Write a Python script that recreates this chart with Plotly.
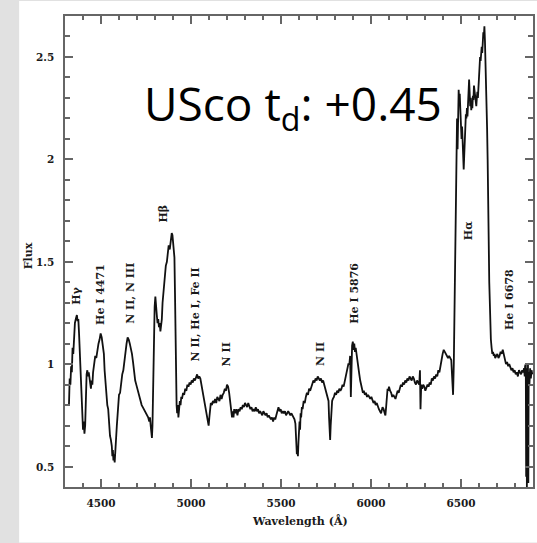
import plotly.graph_objects as go

# Optical spectrum of U Sco (wavelength in Angstrom, normalised flux)
wavelength = [
    4322, 4326, 4330, 4334, 4338, 4342, 4346, 4350, 4355, 4360, 4366, 4370, 4374, 4378, 4382, 4385,
    4388, 4392, 4396, 4400, 4404, 4408, 4412, 4416, 4420, 4424, 4428, 4432, 4436, 4440, 4444, 4448,
    4452, 4456, 4462, 4468, 4474, 4480, 4486, 4492, 4498, 4504, 4510, 4516, 4520, 4525, 4530, 4535,
    4540, 4545, 4550, 4555, 4560, 4563, 4566, 4569, 4572, 4576, 4580, 4584, 4588, 4592, 4596, 4600,
    4606, 4612, 4618, 4624, 4630, 4636, 4642, 4648, 4654, 4660, 4666, 4672, 4678, 4684, 4690, 4696,
    4702, 4708, 4714, 4720, 4726, 4732, 4738, 4744, 4750, 4756, 4762, 4768, 4772, 4776, 4780, 4783,
    4786, 4790, 4794, 4798, 4802, 4806, 4810, 4814, 4818, 4822, 4826, 4830, 4834, 4838, 4842, 4846,
    4850, 4855, 4860, 4866, 4870, 4876, 4882, 4888, 4893, 4897, 4900, 4904, 4908, 4911, 4914, 4917,
    4920, 4923, 4927, 4930, 4934, 4938, 4942, 4946, 4950, 4956, 4962, 4968, 4974, 4980, 4986, 4992,
    4998, 5004, 5010, 5016, 5022, 5028, 5034, 5040, 5046, 5052, 5058, 5064, 5070, 5076, 5082, 5088,
    5094, 5098, 5102, 5106, 5110, 5116, 5122, 5128, 5134, 5140, 5146, 5152, 5158, 5164, 5170, 5176,
    5182, 5188, 5194, 5200, 5206, 5212, 5216, 5220, 5224, 5228, 5232, 5236, 5240, 5246, 5252, 5258,
    5264, 5270, 5276, 5282, 5288, 5294, 5300, 5306, 5312, 5318, 5324, 5330, 5336, 5342, 5348, 5354,
    5360, 5366, 5372, 5378, 5384, 5390, 5396, 5402, 5408, 5414, 5420, 5426, 5432, 5438, 5444, 5450,
    5456, 5462, 5468, 5474, 5480, 5486, 5492, 5498, 5504, 5510, 5516, 5522, 5528, 5534, 5540, 5546,
    5552, 5558, 5564, 5570, 5575, 5580, 5584, 5588, 5591, 5594, 5597, 5600, 5603, 5606, 5609, 5612,
    5616, 5620, 5626, 5632, 5638, 5644, 5650, 5656, 5662, 5668, 5674, 5680, 5686, 5692, 5698, 5704,
    5710, 5716, 5722, 5728, 5734, 5740, 5746, 5752, 5758, 5764, 5767, 5770, 5773, 5776, 5780, 5784,
    5788, 5794, 5800, 5806, 5812, 5818, 5824, 5830, 5836, 5842, 5848, 5854, 5862, 5868, 5874, 5880,
    5884, 5888, 5891, 5895, 5899, 5903, 5907, 5911, 5915, 5920, 5925, 5930, 5935, 5940, 5945, 5950,
    5955, 5960, 5966, 5972, 5978, 5984, 5990, 5996, 6002, 6008, 6014, 6020, 6026, 6032, 6038, 6044,
    6050, 6056, 6064, 6070, 6076, 6080, 6084, 6088, 6092, 6096, 6100, 6106, 6112, 6118, 6124, 6130,
    6136, 6142, 6148, 6154, 6160, 6166, 6172, 6178, 6184, 6190, 6196, 6202, 6208, 6214, 6220, 6226,
    6232, 6238, 6244, 6250, 6256, 6262, 6268, 6272, 6275, 6279, 6284, 6290, 6296, 6302, 6308, 6314,
    6320, 6326, 6332, 6338, 6344, 6350, 6356, 6362, 6368, 6374, 6380, 6386, 6392, 6398, 6404, 6410,
    6416, 6422, 6428, 6434, 6440, 6446, 6450, 6453, 6456, 6460, 6464, 6467, 6470, 6474, 6478, 6481,
    6484, 6487, 6490, 6493, 6496, 6500, 6503, 6506, 6509, 6512, 6515, 6518, 6521, 6524, 6527, 6530,
    6533, 6536, 6539, 6542, 6545, 6548, 6551, 6554, 6557, 6560, 6563, 6566, 6569, 6572, 6575, 6578,
    6581, 6585, 6588, 6591, 6594, 6597, 6600, 6603, 6606, 6609, 6612, 6615, 6618, 6621, 6624, 6627,
    6630, 6633, 6636, 6639, 6642, 6645, 6648, 6651, 6654, 6657, 6660, 6663, 6666, 6670, 6674, 6678,
    6682, 6686, 6690, 6696, 6702, 6708, 6714, 6720, 6726, 6732, 6738, 6744, 6750, 6756, 6762, 6768,
    6774, 6780, 6786, 6792, 6798, 6804, 6810, 6816, 6822, 6828, 6834, 6840, 6846, 6850, 6854, 6856,
    6858, 6860, 6862, 6864, 6866, 6868, 6870, 6872, 6874, 6876, 6880, 6884, 6888, 6892, 6896,
]
flux = [
    0.80, 0.93, 0.90, 0.99, 0.96, 1.08, 1.05, 1.16, 1.20, 1.22, 1.24, 1.21, 1.22, 1.15, 1.05, 0.96,
    0.88, 0.80, 0.72, 0.68, 0.72, 0.66, 0.70, 0.85, 0.95, 0.97, 0.94, 0.96, 0.93, 0.90, 0.88, 0.92,
    0.90, 0.96, 1.00, 1.04, 1.03, 1.08, 1.10, 1.12, 1.15, 1.13, 1.10, 1.05, 0.97, 0.90, 0.85, 0.80,
    0.78, 0.70, 0.65, 0.63, 0.60, 0.55, 0.58, 0.53, 0.56, 0.52, 0.60, 0.66, 0.70, 0.75, 0.80, 0.85,
    0.86, 0.91, 0.95, 0.97, 1.02, 1.06, 1.10, 1.13, 1.12, 1.10, 1.08, 1.05, 1.01, 0.96, 0.92, 0.90,
    0.88, 0.85, 0.83, 0.82, 0.80, 0.79, 0.78, 0.77, 0.76, 0.75, 0.74, 0.72, 0.74, 0.70, 0.66, 0.64,
    0.70, 0.92, 1.10, 1.28, 1.33, 1.30, 1.24, 1.20, 1.22, 1.18, 1.20, 1.16, 1.19, 1.22, 1.30, 1.35,
    1.38, 1.42, 1.48, 1.50, 1.53, 1.58, 1.56, 1.62, 1.64, 1.63, 1.60, 1.58, 1.52, 1.35, 1.10, 0.92,
    0.80, 0.76, 0.80, 0.74, 0.79, 0.82, 0.80, 0.84, 0.83, 0.86, 0.85, 0.88, 0.87, 0.90, 0.89, 0.91,
    0.90, 0.92, 0.91, 0.93, 0.92, 0.94, 0.95, 0.93, 0.94, 0.93, 0.90, 0.88, 0.84, 0.80, 0.77, 0.76,
    0.72, 0.70, 0.74, 0.79, 0.81, 0.80, 0.82, 0.81, 0.83, 0.81, 0.84, 0.83, 0.82, 0.85, 0.83, 0.85,
    0.86, 0.88, 0.87, 0.90, 0.89, 0.86, 0.82, 0.78, 0.76, 0.74, 0.77, 0.74, 0.78, 0.76, 0.78, 0.75,
    0.78, 0.77, 0.79, 0.78, 0.80, 0.79, 0.81, 0.80, 0.79, 0.81, 0.79, 0.78, 0.79, 0.77, 0.78, 0.77,
    0.79, 0.77, 0.78, 0.76, 0.77, 0.76, 0.75, 0.77, 0.76, 0.75, 0.76, 0.74, 0.75, 0.74, 0.73, 0.74,
    0.72, 0.74, 0.73, 0.75, 0.77, 0.79, 0.77, 0.78, 0.76, 0.77, 0.76, 0.77, 0.75, 0.76, 0.77, 0.76,
    0.75, 0.76, 0.75, 0.74, 0.73, 0.71, 0.64, 0.56, 0.60, 0.55, 0.62, 0.70, 0.72, 0.68, 0.76, 0.74,
    0.79, 0.78, 0.82, 0.81, 0.84, 0.86, 0.85, 0.88, 0.87, 0.89, 0.90, 0.92, 0.91, 0.93, 0.92, 0.94,
    0.93, 0.92, 0.93, 0.91, 0.92, 0.90, 0.88, 0.86, 0.84, 0.82, 0.74, 0.66, 0.63, 0.70, 0.78, 0.82,
    0.83, 0.84, 0.86, 0.85, 0.87, 0.86, 0.88, 0.87, 0.88, 0.90, 0.89, 0.92, 0.95, 0.98, 1.00, 1.00,
    1.04, 0.84, 1.06, 1.09, 1.11, 1.07, 1.10, 1.06, 1.08, 1.04, 1.03, 0.98, 0.95, 0.92, 0.90, 0.88,
    0.86, 0.87, 0.85, 0.86, 0.84, 0.85, 0.84, 0.83, 0.84, 0.82, 0.81, 0.82, 0.80, 0.81, 0.79, 0.78,
    0.77, 0.76, 0.79, 0.78, 0.76, 0.75, 0.79, 0.84, 0.88, 0.87, 0.89, 0.87, 0.86, 0.84, 0.85, 0.84,
    0.83, 0.85, 0.87, 0.86, 0.88, 0.90, 0.89, 0.91, 0.90, 0.92, 0.91, 0.93, 0.92, 0.94, 0.93, 0.92,
    0.94, 0.93, 0.91, 0.90, 0.92, 0.91, 0.90, 0.97, 0.78, 0.90, 0.88, 0.90, 0.89, 0.87, 0.89, 0.90,
    0.89, 0.91, 0.90, 0.93, 0.92, 0.94, 0.93, 0.95, 0.94, 0.97, 0.96, 1.00, 1.02, 1.05, 1.07, 1.06,
    1.05, 1.04, 1.03, 1.04, 1.03, 1.02, 0.95, 0.88, 0.85, 1.00, 1.30, 1.60, 1.90, 2.15, 2.20, 2.05,
    2.30, 2.34, 2.28, 2.32, 2.25, 2.18, 2.10, 2.16, 2.04, 1.98, 1.95, 2.02, 2.10, 2.15, 2.22, 2.20,
    2.25, 2.21, 2.28, 2.36, 2.39, 2.33, 2.26, 2.30, 2.24, 2.28, 2.25, 2.31, 2.29, 2.36, 2.33, 2.30,
    2.28, 2.26, 2.30, 2.33, 2.30, 2.35, 2.40, 2.47, 2.50, 2.48, 2.53, 2.55, 2.52, 2.58, 2.62, 2.60,
    2.65, 2.58, 2.50, 2.42, 2.30, 2.15, 2.00, 1.88, 1.60, 1.40, 1.25, 1.18, 1.12, 1.08, 1.05, 1.06,
    1.04, 1.05, 1.03, 1.04, 1.05, 1.03, 1.04, 1.06, 1.05, 1.07, 1.04, 1.02, 1.00, 1.01, 0.99, 1.00,
    0.98, 0.97, 0.98, 0.96, 0.97, 0.95, 0.96, 0.94, 0.97, 0.96, 0.95, 0.97, 0.96, 0.98, 0.94, 0.99,
    0.72, 1.00, 0.45, 0.98, 0.40, 0.95, 0.75, 1.00, 0.42, 0.96, 0.90, 0.98, 0.93, 0.97, 0.95,
]

# Line identifications: (label, wavelength, flux position)
line_labels = ["Hγ", "He I 4471", "N II, N III", "Hβ", "N II, He I, Fe II",
               "N II", "N II", "He I 5876", "Hα", "He I 6678"]
label_wave = [4366, 4494, 4660, 4842, 5025, 5196, 5716, 5904, 6540, 6767]
label_flux = [1.333, 1.342, 1.347, 1.733, 1.240, 1.049, 1.049, 1.347, 1.650, 1.313]

x_range = [4300, 6900]
y_range = [0.4, 2.7]
y_tickvals = [0.5, 1, 1.5, 2, 2.5]
y_ticktext = ["0.5", "1", "1.5", "2", "2.5"]

serif = "DejaVu Serif"
axis_col = "#666666"
text_col = "#1a1a1a"
tick_font = dict(family=serif, size=10.5, color=text_col, weight="bold")

fig = go.Figure()
fig.add_trace(go.Scatter(
    x=wavelength, y=flux, mode="lines",
    line=dict(color="#111111", width=1.8),
    showlegend=False,
))

for txt, wx, fy in zip(line_labels, label_wave, label_flux):
    fig.add_annotation(
        x=wx, y=fy, text="<b>" + txt + "</b>", textangle=-90, showarrow=False,
        xanchor="center", yanchor="middle",
        font=dict(family=serif, size=11, color=text_col),
    )

# Flux tick labels, placed just left of the frame at each tick value
for val, txt in zip(y_tickvals, y_ticktext):
    fig.add_annotation(
        xref="paper", yref="y", x=-0.019, y=val, text=txt, showarrow=False,
        xanchor="right", yanchor="middle", font=tick_font,
    )

# Epoch title inside the plot
fig.add_annotation(
    x=6408, y=2.26, text="USco t<sub>d</sub>: +0.45", showarrow=False,
    xanchor="right", yanchor="middle",
    font=dict(family="Open Sans", size=46, color="#000000"),
)

# Axis titles
fig.add_annotation(
    xref="paper", yref="paper", x=0.502, y=-0.072,
    text="<b>Wavelength (Å)</b>", showarrow=False, xanchor="center", yanchor="middle",
    font=dict(family=serif, size=11, color=text_col),
)
fig.add_annotation(
    xref="paper", yref="paper", x=-0.079, y=0.49, textangle=-90,
    text="<b>Flux</b>", showarrow=False, xanchor="center", yanchor="middle",
    font=dict(family=serif, size=11, color=text_col),
)

axis_common = dict(
    showgrid=False, zeroline=False,
    showline=True, linecolor=axis_col, linewidth=2, mirror="allticks",
    ticks="inside", tickcolor=axis_col, tickwidth=1.5,
    tickfont=tick_font,
)

fig.update_xaxes(
    range=x_range, tick0=4500, dtick=500, ticklen=8, ticklabelstandoff=5,
    minor=dict(dtick=100, tick0=4500, ticks="inside", ticklen=4,
               tickcolor=axis_col, tickwidth=1.5),
    **axis_common,
)
fig.update_yaxes(
    range=y_range, tickvals=y_tickvals, ticklen=8, showticklabels=False,
    minor=dict(dtick=0.1, tick0=0.5, ticks="inside", ticklen=5,
               tickcolor=axis_col, tickwidth=1.5),
    **axis_common,
)

# White panel behind the figure, leaving a grey strip at the left
fig.add_shape(
    type="rect", xref="paper", yref="paper",
    x0=-0.098, x1=1.02, y0=-0.118, y1=1.032,
    fillcolor="white", line=dict(width=0), layer="below",
)

fig.update_layout(
    width=537, height=543,
    margin=dict(l=65, r=2, t=16, b=56),
    paper_bgcolor="#e1e1e1", plot_bgcolor="white",
)

fig.write_html("out.html")
